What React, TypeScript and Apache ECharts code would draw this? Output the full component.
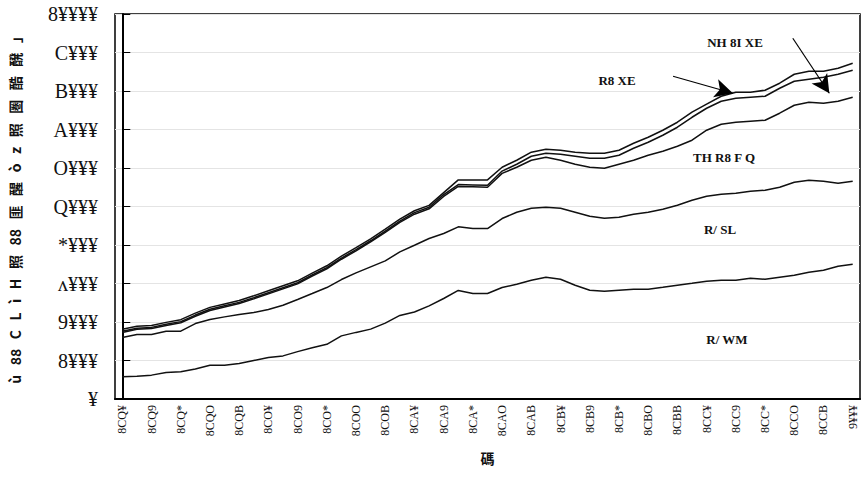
import React, { useEffect, useRef } from "react";
import * as echarts from "echarts";

const glyph: Record<string, string> = { "0": "¥", "1": "8", "2": "9", "3": "ʌ", "4": "*", "5": "Q", "6": "O", "7": "A", "8": "B", "9": "C" };
const years: number[] = [];
for (let y = 1950; y <= 2000; y++) years.push(y);
const categories = years.map((y) => String(y).split("").map((c) => glyph[c]).join(""));

const yTickLabels = ["¥", "8¥¥¥", "9¥¥¥", "ʌ¥¥¥", "*¥¥¥", "Q¥¥¥", "O¥¥¥", "A¥¥¥", "B¥¥¥", "C¥¥¥", "8¥¥¥¥"];

const seriesNames = ["NH 8I XE", "R8 XE", "TH R8 F Q", "R/ SL", "R/ WM"];

const topLine = [1810, 1890, 1910, 1990, 2060, 2230, 2380, 2470, 2560, 2680, 2810, 2940, 3070, 3270, 3460, 3710, 3930, 4160, 4410, 4670, 4890, 5030, 5360, 5690, 5690, 5690, 6020,
  6202, 6410, 6487, 6461, 6410, 6383, 6383, 6461, 6643, 6799, 6981, 7189, 7449, 7657, 7864, 7968, 7968, 8020, 8202, 8435, 8513, 8513, 8591, 8721];
const midLine = [1760, 1840, 1860, 1940, 2010, 2180, 2330, 2420, 2510, 2630, 2760, 2890, 3020, 3220, 3410, 3660, 3880, 4110, 4360, 4620, 4840, 4980, 5310, 5570, 5560, 5550, 5920,
  6098, 6306, 6383, 6357, 6306, 6254, 6254, 6332, 6513, 6669, 6851, 7059, 7318, 7552, 7734, 7812, 7838, 7864, 8072, 8254, 8306, 8358, 8435, 8539];
const lowLine = [1730, 1810, 1830, 1910, 1980, 2150, 2300, 2390, 2480, 2600, 2730, 2860, 2990, 3190, 3380, 3630, 3850, 4080, 4330, 4590, 4800, 4940, 5260, 5520, 5510, 5500, 5860,
  6020, 6202, 6280, 6202, 6098, 6020, 5994, 6098, 6202, 6332, 6435, 6565, 6721, 6981, 7137, 7189, 7215, 7241, 7423, 7630, 7708, 7682, 7734, 7838];
const secondLine = [1597, 1675, 1675, 1762, 1762, 1960, 2064, 2133, 2194, 2246, 2324, 2436, 2584, 2739, 2895, 3103, 3276, 3431, 3587, 3821, 3994, 4168, 4298, 4471, 4428, 4428, 4687,
  4851, 4955, 4981, 4955, 4851, 4747, 4696, 4721, 4799, 4851, 4929, 5033, 5163, 5267, 5319, 5345, 5397, 5423, 5500, 5630, 5682, 5656, 5604, 5656];
const bottomLine = [575, 590, 620, 690, 705, 780, 878, 878, 920, 1000, 1080, 1120, 1230, 1330, 1420, 1640, 1730, 1815, 1970, 2170, 2260, 2420, 2610, 2820, 2740, 2740, 2895,
  2980, 3085, 3163, 3111, 2956, 2826, 2800, 2826, 2852, 2852, 2900, 2956, 3007, 3060, 3085, 3085, 3137, 3111, 3163, 3215, 3293, 3345, 3449, 3500];

// arrow annotations in (year index, value) coordinates
const arrows = [
  { from: [37.7, 8383], to: [41.8, 7942] },
  { from: [45.9, 9370], to: [48.4, 7942] },
];

const yTitle = "ù   88   C   L   ì   H   照   88   匪   醒   ò   z   照   圏   酷   醗   」";
const xTitle = "碼";

const serif = "'Liberation Serif', 'DejaVu Serif', serif";

export default function App() {
  const ref = useRef<HTMLDivElement>(null);
  useEffect(() => {
    if (!ref.current) return;
    const chart = echarts.init(ref.current, null, { renderer: "svg" });
    const lineData = [topLine, midLine, lowLine, secondLine, bottomLine];
    const series: any[] = lineData.map((d, i) => ({
      name: seriesNames[i],
      type: "line",
      data: d,
      symbol: "none",
      lineStyle: { color: "#111", width: 1.5 },
      xAxisIndex: 0,
      yAxisIndex: 0,
    }));
    series.push({
      type: "line",
      xAxisIndex: 1,
      yAxisIndex: 0,
      data: [],
      markLine: {
        silent: true,
        symbol: ["none", "arrow"],
        symbolSize: [14, 18],
        label: { show: false },
        lineStyle: { color: "#000", width: 1.2, type: "solid" },
        data: arrows.map((a) => [{ coord: a.from }, { coord: a.to }]),
      },
    });
    const txt = (text: string, x: number, y: number) => ({
      type: "text",
      x,
      y,
      style: { text, fill: "#111", font: `bold 13px ${serif}`, align: "center", verticalAlign: "middle" },
    });
    chart.setOption({
      animation: false,
      grid: { left: 108, right: 8, top: 14, bottom: 87, show: true, borderColor: "#000", borderWidth: 1.5 },
      xAxis: [
        {
          type: "category",
          data: categories,
          boundaryGap: true,
          name: xTitle,
          nameLocation: "middle",
          nameGap: 52,
          nameTextStyle: { fontFamily: "'Noto Sans CJK SC'", fontSize: 14, fontWeight: "bold", color: "#111" },
          axisLine: { lineStyle: { color: "#000", width: 2 } },
          axisTick: { inside: true, length: 6, interval: 0, lineStyle: { color: "#000" } },
          axisLabel: { interval: 1, rotate: 90, fontFamily: serif, fontSize: 12, color: "#111", margin: 6 },
          splitLine: { show: false },
        },
        { type: "value", min: -0.5, max: 50.5, show: false },
      ],
      yAxis: {
        type: "value",
        min: 0,
        max: 10000,
        interval: 1000,
        name: yTitle,
        nameLocation: "middle",
        nameRotate: 90,
        nameGap: 93,
        nameTextStyle: { fontFamily: "'Noto Sans CJK SC'", fontSize: 14, fontWeight: "bold", color: "#111" },
        axisLine: { show: true, lineStyle: { color: "#000", width: 2 } },
        axisTick: { show: true, inside: true, length: 8, lineStyle: { color: "#000" } },
        axisLabel: {
          fontFamily: serif,
          fontSize: 20,
          color: "#111",
          margin: 17,
          formatter: (v: number) => yTickLabels[Math.round(v / 1000)] ?? "",
        },
        splitLine: { lineStyle: { color: "#e4e4e4", width: 1 } },
      },
      series,
      graphic: [
        txt(seriesNames[0], 735, 42),
        txt(seriesNames[1], 617, 80),
        txt(seriesNames[2], 724, 157),
        txt(seriesNames[3], 720, 229),
        txt(seriesNames[4], 727, 339),
      ],
    });
    return () => chart.dispose();
  }, []);
  return <div ref={ref} style={{ width: 868, height: 486, position: "absolute", left: 0, top: 0, background: "#fff" }} />;
}
